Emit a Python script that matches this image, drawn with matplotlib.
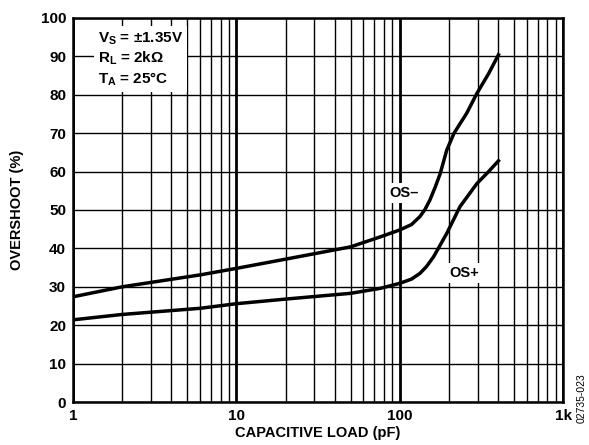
import matplotlib
matplotlib.use('Agg')
import matplotlib.pyplot as plt
from matplotlib.ticker import LogLocator, FixedLocator, NullFormatter

plt.rcParams['font.family'] = ['Liberation Sans', 'DejaVu Sans']
plt.rcParams['font.weight'] = 'bold'
plt.rcParams['mathtext.fontset'] = 'custom'
plt.rcParams['mathtext.rm'] = 'Liberation Sans:bold'
plt.rcParams['mathtext.it'] = 'Liberation Sans:bold'
plt.rcParams['mathtext.bf'] = 'Liberation Sans:bold'

# curves
os_minus_x = [1, 2, 6, 10, 20, 50, 76, 100, 118, 133, 143, 153, 165, 177, 194, 215, 257, 297, 350, 402]
os_minus_y = [27.4, 30.0, 33.1, 34.8, 37.2, 40.4, 43.0, 44.8, 46.2, 48.3, 50.2, 52.6, 56.0, 59.5, 65.6, 70.0, 75.2, 80.4, 85.5, 90.4]
os_plus_x = [1, 2, 6, 10, 20, 50, 76, 100, 118, 133, 146, 161, 194, 234, 297, 350, 402]
os_plus_y = [21.4, 22.8, 24.4, 25.6, 26.8, 28.3, 29.6, 30.9, 32.0, 33.5, 35.3, 37.8, 43.9, 50.9, 56.9, 60.0, 62.8]

xticks = [1, 10, 100, 1000]
xticklabels = ['1', '10', '100', '1k']
yticks = list(range(0, 101, 10))

fig = plt.figure(figsize=(5.89, 4.45), dpi=100)
ax = fig.add_axes([0.124, 0.0966, 0.832, 0.863])

ax.set_xscale('log')
ax.set_xlim(1, 1000)
ax.set_ylim(0, 100)

# grid: minor lines thin, decade lines thick
ax.xaxis.set_major_locator(FixedLocator(xticks))
ax.xaxis.set_minor_locator(LogLocator(base=10, subs=range(2, 10)))
ax.xaxis.set_minor_formatter(NullFormatter())
ax.set_xticks(xticks)
ax.set_xticklabels(xticklabels)
ax.set_yticks(yticks)
ax.grid(which='minor', axis='x', color='black', lw=1.0)
ax.grid(which='major', axis='x', color='black', lw=2.0)
ax.grid(which='major', axis='y', color='black', lw=1.0)
ax.tick_params(which='both', length=0, labelsize=11, pad=5)
for lab in ax.get_xticklabels() + ax.get_yticklabels():
    lab.set_fontweight('bold')
for s in ax.spines.values():
    s.set_linewidth(1.8)
ax.set_axisbelow(True)

ax.plot(os_minus_x, os_minus_y, color='black', lw=2.5, solid_joinstyle='round', zorder=3)
ax.plot(os_plus_x, os_plus_y, color='black', lw=2.5, solid_joinstyle='round', zorder=3)

box = dict(facecolor='white', edgecolor='none', pad=2)
ax.text(106, 54.4, 'OS\u2013', ha='center', va='center', fontsize=10.5, fontweight='bold', bbox=box, zorder=4)
ax.text(250, 33.6, 'OS+', ha='center', va='center', fontsize=10.5, fontweight='bold', bbox=box, zorder=4)

ax.text(1.42, 96.8, '$V_S$ = \u00b11.35V\n$R_L$ = 2k\u03a9\n$T_A$ = 25\u00b0C',
        ha='left', va='top', fontsize=11, fontweight='bold', linespacing=1.25,
        bbox=dict(facecolor='white', edgecolor='none', pad=3), zorder=4)

ax.set_xlabel('CAPACITIVE LOAD (pF)', fontsize=10.5, fontweight='bold', labelpad=2)
ax.set_ylabel('OVERSHOOT (%)', fontsize=10.5, fontweight='bold', labelpad=12)

fig.text(0.988, 0.105, '02735-023', rotation=90, ha='center', va='center', fontsize=7.5, fontweight='normal')

plt.savefig('out.png', dpi=100)
